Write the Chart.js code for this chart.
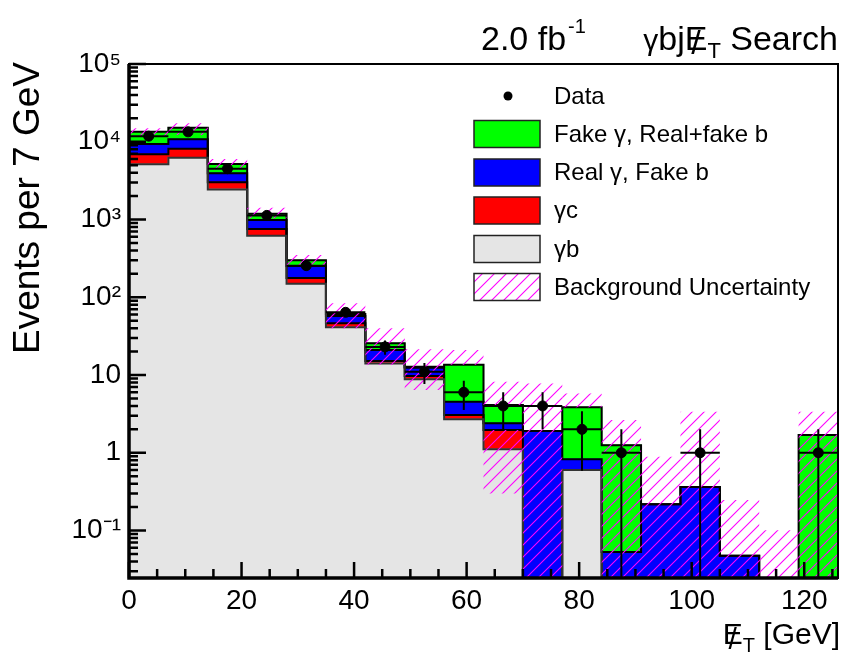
<!DOCTYPE html>
<html>
<head>
<meta charset="utf-8">
<script src="https://cdn.jsdelivr.net/npm/chart.js@4/dist/chart.umd.min.js"></script>
<style>
html,body{margin:0;padding:0;background:#fff;}
#wrap{width:844px;height:660px;position:relative;}
canvas{display:block;}
</style>
</head>
<body>
<div id="wrap"><canvas id="c" width="844" height="660"></canvas></div>
<script>
// ---- Data ----
const binCenters = [3.5,10.5,17.5,24.5,31.5,38.5,45.5,52.5,59.5,66.5,73.5,80.5,87.5,94.5,101.5,108.5,115.5,122.5];
const binHalfWidth = 3.5;
const gammaB        = [5130,6240,2440,619,149,41.0,14.1,8.8,2.69,1.11,0,0.60,0,0,0,0,0,0];
const gammaC        = [1770,1900,570,136,28,5.2,1.0,0.9,0.37,0.85,0,0,0,0,0,0,0,0];
const realGammaFakeB= [2450,2620,920,230,75,11.2,5.9,2.7,1.48,0.43,1.90,0.224,0.053,0.217,0.362,0.0474,0,0];
const fakeGamma     = [4110,4400,1240,205,47,3.6,4.6,0.4,8.96,1.72,0,3.02,1.20,0,0,0,0,1.69];
const dataCounts    = [11800,13400,4500,1130,255,64,23,11,6,4,4,2,1,0,1,0,0,1];
// band lower edge 0.01 = below the bottom of the axis
const uncLow        = [11600,12200,4330,1035,260,39.9,13.5,6.4,13.5,0.30,0.01,3.84,0.01,0.01,0.01,0.01,0.01,0.01];
const uncHigh       = [14900,17300,6000,1420,349,83.5,39.9,21.4,21.0,8.2,7.8,5.8,2.64,0.89,3.37,0.247,0.101,3.37];
const uncGapLow     = [null,null,null,null,null,null,null,null,null,1.96,null,null,null,null,null,null,null,null];
const uncGapHigh    = [null,null,null,null,null,null,null,null,null,4.11,null,null,null,null,null,null,null,null];
const yTickValues   = [0.1,1,10,100,1000,10000,100000];
const yTickLabels   = ['10\u207B\u00B9','1','10','10\u00B2','10\u00B3','10\u2074','10\u2075'];
const xTickStep = 20, xMinorStep = 5;

const FONT = '"Liberation Sans", Arial, Helvetica, sans-serif';

function makeHatch(ctx){
  const s = 12;
  const c = document.createElement('canvas'); c.width = s; c.height = s;
  const g = c.getContext('2d');
  g.strokeStyle = '#ff00ff'; g.lineWidth = 1.1;
  g.beginPath();
  g.moveTo(0, s); g.lineTo(s, 0);
  g.moveTo(-s/2, s/2); g.lineTo(s/2, -s/2);
  g.moveTo(s/2, s*1.5); g.lineTo(s*1.5, s/2);
  g.stroke();
  return ctx.createPattern(c, 'repeat');
}

const canvas = document.getElementById('c');
const ctx0 = canvas.getContext('2d');
const hatch = makeHatch(ctx0);

const toBars = arr => binCenters.map((x,i) => ({x, y: arr[i] > 0 ? arr[i] : null}));
const lowerBand = binCenters.map((x,i) => ({x, y: [uncLow[i], uncGapLow[i] != null ? uncGapLow[i] : uncHigh[i]]}));
const upperBand = binCenters.map((x,i) => ({x, y: uncGapHigh[i] != null ? [uncGapHigh[i], uncHigh[i]] : null}));
const dataPts = binCenters.map((x,i) => ({x, y: dataCounts[i] > 0 ? dataCounts[i] : null}));

// stacked components, bottom to top (for the step outlines)
const stackComponents = [gammaB, gammaC, realGammaFakeB, fakeGamma];
const stackLineColors = ['#333', '#000', '#000', '#000'];

const legendItems = [
  {label:'Data', kind:'point'},
  {label:'Fake \u03B3, Real+fake b', kind:'box', color:'#00ff00'},
  {label:'Real \u03B3, Fake b', kind:'box', color:'#0000ff'},
  {label:'\u03B3c', kind:'box', color:'#ff0000'},
  {label:'\u03B3b', kind:'box', color:'#e5e5e5'},
  {label:'Background Uncertainty', kind:'hatch'}
];

const decor = {
  id: 'decor',
  afterDatasetDraw(chart, args){
    if (chart.data.datasets[args.index].stepOutline !== true) return;
    const {ctx, chartArea: ca, scales: {x, y}} = chart;
    ctx.save();
    ctx.beginPath(); ctx.rect(ca.left, ca.top, ca.right-ca.left, ca.bottom-ca.top); ctx.clip();
    ctx.lineWidth = 2;
    ctx.lineCap = 'square';
    const n = binCenters.length;
    let cum = new Array(n).fill(0);
    const levels = [];
    stackComponents.forEach(comp => { cum = cum.map((c,i) => c + (comp[i] || 0)); levels.push(cum); });
    // draw from top level down so lower outlines sit on top
    for (let k = levels.length - 1; k >= 0; k--) {
      const lv = levels[k];
      ctx.strokeStyle = stackLineColors[k];
      ctx.beginPath();
      for (let i = 0; i < n; i++) {
        if (!(lv[i] > 0)) continue;
        const py = y.getPixelForValue(lv[i]);
        ctx.moveTo(x.getPixelForValue(binCenters[i]-binHalfWidth), py);
        ctx.lineTo(x.getPixelForValue(binCenters[i]+binHalfWidth), py);
      }
      for (let j = 0; j <= n; j++) {
        const a = j > 0 ? lv[j-1] : 0;
        const b = j < n ? lv[j] : 0;
        if (a === b) continue;
        const ex = j < n ? binCenters[j] - binHalfWidth : binCenters[n-1] + binHalfWidth;
        const px = x.getPixelForValue(ex);
        const p1 = Math.min(a,b) > 0 ? y.getPixelForValue(Math.min(a,b)) : ca.bottom;
        const p2 = y.getPixelForValue(Math.max(a,b));
        ctx.moveTo(px, p1); ctx.lineTo(px, p2);
      }
      ctx.stroke();
    }
    ctx.restore();
  },
  afterDatasetsDraw(chart){
    const {ctx, chartArea: ca, scales: {x, y}} = chart;
    ctx.save();
    ctx.beginPath(); ctx.rect(ca.left, ca.top, ca.right-ca.left, ca.bottom-ca.top); ctx.clip();
    ctx.strokeStyle = '#000'; ctx.lineWidth = 2;
    dataCounts.forEach((n,i) => {
      if (!(n > 0)) return;
      const e = Math.sqrt(n);
      const px = x.getPixelForValue(binCenters[i]);
      const py = y.getPixelForValue(n);
      const lo = n - e > 0 ? y.getPixelForValue(n - e) : ca.bottom;
      const hi = y.getPixelForValue(n + e);
      ctx.beginPath();
      ctx.moveTo(px, lo); ctx.lineTo(px, hi);
      ctx.moveTo(x.getPixelForValue(binCenters[i]-binHalfWidth), py);
      ctx.lineTo(x.getPixelForValue(binCenters[i]+binHalfWidth), py);
      ctx.stroke();
    });
    ctx.restore();
  },
  afterDraw(chart){
    const {ctx, chartArea: ca, scales: {x, y}} = chart;
    ctx.save();
    ctx.strokeStyle = '#000'; ctx.lineWidth = 2.5;
    ctx.beginPath();
    for (let d = -2; d <= 5; d++) {
      for (let m = 1; m <= 9; m++) {
        const v = m * Math.pow(10, d);
        if (v < y.min || v > y.max) continue;
        const py = y.getPixelForValue(v);
        const len = m === 1 ? 17 : 9;
        ctx.moveTo(ca.left, py); ctx.lineTo(ca.left + len, py);
      }
    }
    for (let v = 0; v <= x.max; v += xMinorStep) {
      const px = x.getPixelForValue(v);
      const len = v % xTickStep === 0 ? 16 : 9;
      ctx.moveTo(px, ca.bottom); ctx.lineTo(px, ca.bottom - len);
    }
    ctx.stroke();
    ctx.lineWidth = 2;
    ctx.strokeRect(ca.left, ca.top, ca.right - ca.left, ca.bottom - ca.top);
    ctx.lineWidth = 3.5;
    ctx.beginPath();
    ctx.moveTo(ca.left, ca.top); ctx.lineTo(ca.left, ca.bottom); ctx.lineTo(ca.right, ca.bottom);
    ctx.stroke();

    // legend
    const rows = [96, 134, 172.5, 210.5, 249, 287];
    const bx = 474, bw = 66, bh = 27, tx = 554;
    ctx.font = '24px ' + FONT; ctx.textBaseline = 'middle'; ctx.textAlign = 'left';
    legendItems.forEach((it, i) => {
      const cy = rows[i];
      if (it.kind === 'point') {
        ctx.fillStyle = '#000'; ctx.beginPath(); ctx.arc(bx + bw/2 + 1, cy, 4.5, 0, Math.PI*2); ctx.fill();
      } else {
        if (it.kind === 'hatch') { ctx.fillStyle = '#fff'; ctx.fillRect(bx, cy - bh/2, bw, bh); ctx.fillStyle = hatch; }
        else ctx.fillStyle = it.color;
        ctx.fillRect(bx, cy - bh/2, bw, bh);
        ctx.strokeStyle = '#222'; ctx.lineWidth = 1.5;
        ctx.strokeRect(bx, cy - bh/2, bw, bh);
      }
      ctx.fillStyle = '#000';
      ctx.fillText(it.label, tx, cy + 1);
    });

    // top texts
    ctx.textBaseline = 'alphabetic';
    ctx.fillStyle = '#000';
    ctx.font = '34px ' + FONT;
    ctx.fillText('2.0 fb', 481, 50);
    const w1 = ctx.measureText('2.0 fb').width;
    ctx.font = '20px ' + FONT;
    ctx.fillText('-1', 481 + w1 + 2, 33);

    const parts = [
      {t:'\u03B3', f:'30px', dy:0},
      {t:'bj', f:'34px', dy:0},
      {t:'E', f:'34px', dy:0, slash:true},
      {t:'T', f:'22px', dy:8},
      {t:' Search', f:'34px', dy:0}
    ];
    let total = 0;
    parts.forEach(p => { ctx.font = p.f + ' ' + FONT; p.w = ctx.measureText(p.t).width; total += p.w; });
    let cx = 838 - total;
    parts.forEach(p => {
      ctx.font = p.f + ' ' + FONT;
      ctx.fillText(p.t, cx, 50 + p.dy);
      if (p.slash) { const ws = ctx.measureText('/').width; ctx.fillText('/', cx + p.w/2 - ws/2, 54); }
      cx += p.w;
    });

    const xparts = [
      {t:'E', f:'30px', dy:0, slash:true},
      {t:'T', f:'20px', dy:8},
      {t:' [GeV]', f:'30px', dy:0}
    ];
    total = 0;
    xparts.forEach(p => { ctx.font = p.f + ' ' + FONT; p.w = ctx.measureText(p.t).width; total += p.w; });
    cx = 840 - total;
    xparts.forEach(p => {
      ctx.font = p.f + ' ' + FONT;
      ctx.fillText(p.t, cx, 644 + p.dy);
      if (p.slash) { const ws = ctx.measureText('/').width; ctx.fillText('/', cx + p.w/2 - ws/2, 649); }
      cx += p.w;
    });

    ctx.save();
    ctx.translate(39, 62);
    ctx.rotate(-Math.PI/2);
    ctx.font = '37px ' + FONT;
    ctx.textAlign = 'right';
    ctx.fillText('Events per 7 GeV', 0, 0);
    ctx.restore();

    ctx.restore();
  }
};

new Chart(canvas, {
  type: 'bar',
  data: {
    datasets: [
      {type:'scatter', label:'Data', data: dataPts, order:-3, stack:'data',
       pointRadius:5, pointHoverRadius:5, pointBackgroundColor:'#000', pointBorderColor:'#000', showLine:false},
      {label:'Background Uncertainty', data: lowerBand, order:-2, stack:'unc', backgroundColor: hatch, inflateAmount:0},
      {label:'Background Uncertainty (upper)', data: upperBand, order:-1, stack:'unc2', backgroundColor: hatch, inflateAmount:0},
      {label:'\u03B3b', data: toBars(gammaB), order:0, stack:'mc', backgroundColor:'#e5e5e5', stepOutline:true},
      {label:'\u03B3c', data: toBars(gammaC), order:1, stack:'mc', backgroundColor:'#ff0000'},
      {label:'Real \u03B3, Fake b', data: toBars(realGammaFakeB), order:2, stack:'mc', backgroundColor:'#0000ff'},
      {label:'Fake \u03B3, Real+fake b', data: toBars(fakeGamma), order:3, stack:'mc', backgroundColor:'#00ff00'}
    ]
  },
  options: {
    responsive: false,
    animation: false,
    events: [],
    layout: { padding: { top: 64, right: 3, left: 0, bottom: 0 } },
    datasets: { bar: { barPercentage: 1, categoryPercentage: 1, grouped: false, inflateAmount: 0.6, borderWidth: 0 } },
    plugins: { legend: { display: false }, tooltip: { enabled: false } },
    scales: {
      x: {
        type: 'linear', min: 0, max: 126, offset: false,
        grid: { display: false, drawTicks: false }, border: { display: false },
        ticks: { stepSize: xTickStep, includeBounds: false, color: '#000', padding: 6, maxRotation: 0,
                 font: { size: 28, family: FONT } },
        afterFit: s => { s.height = 82; }
      },
      y: {
        type: 'logarithmic', min: 0.0245, max: 100000, stacked: true,
        grid: { display: false, drawTicks: false }, border: { display: false },
        afterBuildTicks: s => { s.ticks = yTickValues.map(v => ({ value: v })); },
        ticks: { color: '#000', padding: 8, font: { size: 28, family: FONT },
                 callback: v => { const i = yTickValues.indexOf(v); return i >= 0 ? yTickLabels[i] : ''; } },
        afterFit: s => { s.width = 129; }
      }
    }
  },
  plugins: [decor]
});
</script>
</body>
</html>
